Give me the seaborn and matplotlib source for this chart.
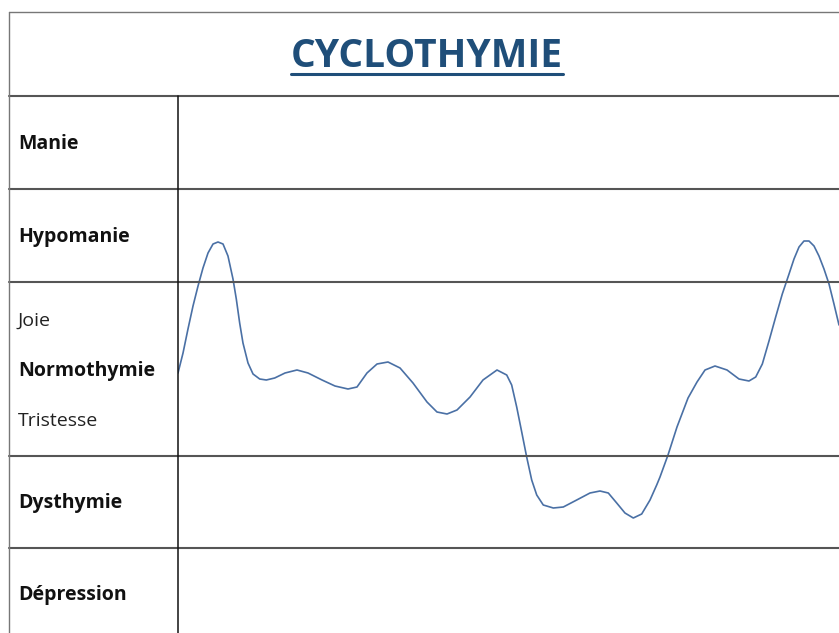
import matplotlib.pyplot as plt
from matplotlib.lines import Line2D
import seaborn as sns

# temps (0-100) et humeur (0 = normothymie, > 0 exaltation, < 0 baisse)
temps = [0.0, 0.76, 1.51, 2.27, 3.03, 3.78, 4.54, 5.3, 6.05, 6.81, 7.56, 8.32,
         8.82, 9.33, 9.83, 10.59, 11.35, 12.36, 13.36, 14.63, 16.19, 18.0,
         19.67, 21.79, 23.75, 25.72, 27.08, 28.59, 30.11, 31.77, 33.59, 35.55,
         37.67, 39.18, 40.7, 42.21, 44.18, 46.14, 48.26, 49.73, 50.48, 51.24,
         52.0, 52.75, 53.51, 54.27, 55.26, 56.78, 58.29, 60.32, 62.33, 63.84,
         65.1, 66.37, 67.62, 68.88, 70.15, 71.41, 72.42, 72.92, 74.13, 75.49,
         77.16, 78.52, 79.73, 81.24, 83.06, 84.87, 86.38, 87.4, 88.4, 89.41,
         90.42, 91.42, 92.44, 93.19, 93.95, 94.7, 95.46, 96.22, 96.97, 97.73,
         98.49, 99.24, 100.0]
humeur = [-0.4, 1.6, 4.0, 6.3, 8.3, 10.1, 11.6, 12.5, 12.7, 12.5, 11.3, 9.0,
          7.0, 4.6, 2.6, 0.6, -0.5, -1.0, -1.1, -0.9, -0.4, -0.1,
          -0.4, -1.1, -1.7, -2.0, -1.8, -0.4, 0.5, 0.7, 0.1, -1.4,
          -3.3, -4.3, -4.5, -4.1, -2.8, -1.1, -0.1, -0.6, -1.6, -3.8,
          -6.3, -8.8, -11.1, -12.6, -13.6, -13.9, -13.8, -13.1, -12.4, -12.2,
          -12.4, -13.4, -14.4, -14.9, -14.5, -13.1, -11.6, -10.8, -8.6, -5.8,
          -2.9, -1.3, -0.1, 0.3, -0.1, -1.0, -1.2, -0.8, 0.5, 2.8,
          5.2, 7.5, 9.5, 11.0, 12.2, 12.8, 12.8, 12.3, 11.3, 10.0,
          8.5, 6.5, 4.4]

niveaux = ['Manie', 'Hypomanie', 'Joie', 'Normothymie', 'Tristesse',
           'Dysthymie', 'Dépression']
niveaux_y = [22.0, 12.7, 4.3, -0.7, -5.7, -13.9, -23.1]
niveaux_gras = [True, True, False, True, False, True, True]
limites = [27.3, 18.0, 8.7, -8.7, -17.9]

sns.set_theme(style='white')
plt.rcParams['font.family'] = ['Open Sans', 'DejaVu Sans']

W, H = 839, 633
fig = plt.figure(figsize=(W / 100, H / 100), dpi=100)
fig.patch.set_facecolor('white')
ax = fig.add_axes([178 / W, 0, 661 / W, 537 / H])

sns.lineplot(x=temps, y=humeur, ax=ax, color='#4a70a5', linewidth=1.2,
             solid_joinstyle='round')
ax.set_xlim(0, 100)
ax.set_ylim(-26.4, 27.3)
ax.set_axis_off()

# grille du tableau
gauche = (9 - 178) / 661
for y in limites:
    ax.axhline(y, xmin=gauche, xmax=1, color='#555555', lw=1.5, clip_on=False)
ax.axvline(0, ymin=0, ymax=1, color='#111111', lw=1.1, clip_on=False)
fig.add_artist(Line2D([9 / W, 1], [1 - 12 / H] * 2, transform=fig.transFigure,
                      color='#777777', lw=1))
fig.add_artist(Line2D([9 / W, 9 / W], [0, 1 - 12 / H], transform=fig.transFigure,
                      color='#777777', lw=1))

# libellés
for nom, y, gras in zip(niveaux, niveaux_y, niveaux_gras):
    ax.text((18 - 178) / 661, y, nom, transform=ax.get_yaxis_transform(),
            ha='left', va='baseline', fontsize=14,
            fontweight='bold' if gras else 'normal',
            color='#111111' if gras else '#222222')

# titre souligné
titre = fig.text(427 / W, 1 - 67 / H, 'CYCLOTHYMIE', ha='center', va='baseline',
                 fontsize=28, fontweight='bold', color='#1f4e79')
fig.canvas.draw()
bb = titre.get_window_extent().transformed(fig.transFigure.inverted())
fig.add_artist(Line2D([bb.x0, bb.x1], [1 - 74 / H] * 2, transform=fig.transFigure,
                      color='#1f4e79', lw=2.2))

fig.savefig('out.png', dpi=100)
